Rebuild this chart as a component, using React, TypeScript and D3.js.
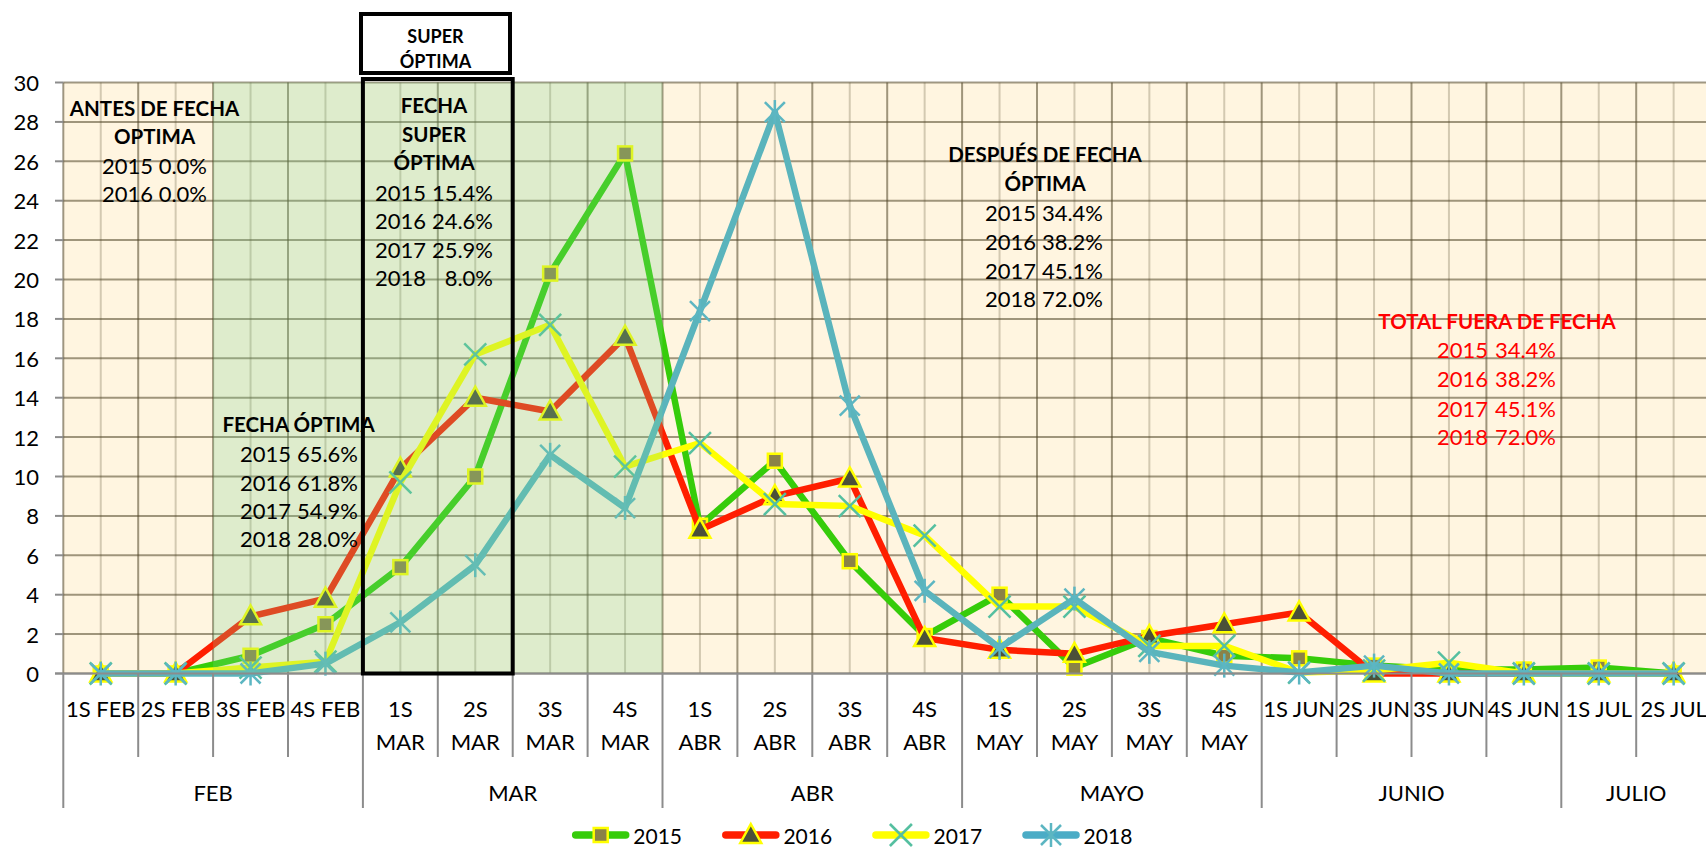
import React from "react";
import * as d3 from "d3";

const categories = [
  "1S FEB", "2S FEB", "3S FEB", "4S FEB",
  "1S MAR", "2S MAR", "3S MAR", "4S MAR",
  "1S ABR", "2S ABR", "3S ABR", "4S ABR",
  "1S MAY", "2S MAY", "3S MAY", "4S MAY",
  "1S JUN", "2S JUN", "3S JUN", "4S JUN",
  "1S JUL", "2S JUL",
];
// categories whose label wraps on two lines
const wrappedMonths = ["MAR", "ABR", "MAY"];
const monthNames = ["FEB", "MAR", "ABR", "MAYO", "JUNIO", "JULIO"];
const monthSpans = [4, 4, 4, 4, 4, 2];

const years = ["2015", "2016", "2017", "2018"];
const v2015 = [0, 0, 0.9, 2.5, 5.4, 10.0, 20.3, 26.4, 7.5, 10.8, 5.7, 1.9, 4.0, 0.3, 1.8, 0.9, 0.77, 0.4, 0.2, 0.2, 0.3, 0];
const v2016 = [0, 0, 2.9, 3.8, 10.4, 14.0, 13.3, 17.1, 7.3, 9.0, 9.9, 1.8, 1.2, 1.0, 1.9, 2.5, 3.1, 0, 0, 0, 0, 0];
const v2017 = [0, 0, 0.3, 0.6, 9.7, 16.2, 17.7, 10.5, 11.7, 8.6, 8.5, 7.0, 3.4, 3.4, 1.4, 1.4, 0.05, 0.15, 0.55, 0, 0, 0];
const v2018 = [0, 0, 0, 0.5, 2.6, 5.5, 11.1, 8.4, 18.4, 28.5, 13.6, 4.2, 1.3, 3.8, 1.1, 0.4, 0.05, 0.4, 0, 0, 0, 0];

const yTicks = d3.range(0, 31, 2);

const antesTitle = ["ANTES DE FECHA", "OPTIMA"];
const antesRows = [["2015", "0.0%"], ["2016", "0.0%"]];
const superTitle = ["FECHA", "SUPER", "ÓPTIMA"];
const superRows = [["2015", "15.4%"], ["2016", "24.6%"], ["2017", "25.9%"], ["2018", "8.0%"]];
const optimaTitle = ["FECHA ÓPTIMA"];
const optimaRows = [["2015", "65.6%"], ["2016", "61.8%"], ["2017", "54.9%"], ["2018", "28.0%"]];
const despuesTitle = ["DESPUÉS DE FECHA", "ÓPTIMA"];
const despuesRows = [["2015", "34.4%"], ["2016", "38.2%"], ["2017", "45.1%"], ["2018", "72.0%"]];
const totalTitle = ["TOTAL FUERA DE FECHA"];
const totalRows = [["2015", "34.4%"], ["2016", "38.2%"], ["2017", "45.1%"], ["2018", "72.0%"]];
const boxTitle = ["SUPER", "ÓPTIMA"];

const seriesValues = [v2015, v2016, v2017, v2018];
const seriesColors = ["#36CC0A", "#FF1E00", "#FFFF00", "#5AB4BC"];
const markerTypes = ["square", "triangle", "x", "star"];

const FONT = "Lato, 'Open Sans', sans-serif";
const W = 1706;
const H = 849;
const left = 63.3;
const catW = 74.9;

function Marker({ type, cx, cy }: { type: string; cx: number; cy: number }) {
  if (type === "square") {
    return <rect x={cx - 7} y={cy - 7} width={14} height={14} fill="#8B8247" stroke="#FFFF00" strokeWidth={2.5} />;
  }
  if (type === "triangle") {
    return (
      <path
        d={`M${cx},${cy - 11}L${cx + 10.5},${cy + 8}L${cx - 10.5},${cy + 8}Z`}
        fill="#4B5039"
        stroke="#FFFF00"
        strokeWidth={2.5}
        strokeLinejoin="miter"
      />
    );
  }
  if (type === "x") {
    const r = 11;
    return (
      <g stroke="#55BFA0" strokeWidth={2.5}>
        <line x1={cx - r} y1={cy - r} x2={cx + r} y2={cy + r} />
        <line x1={cx - r} y1={cy + r} x2={cx + r} y2={cy - r} />
      </g>
    );
  }
  const r = 10;
  return (
    <g stroke="#5CB6C2" strokeWidth={2.5}>
      <line x1={cx - r} y1={cy - r} x2={cx + r} y2={cy + r} />
      <line x1={cx - r} y1={cy + r} x2={cx + r} y2={cy - r} />
      <line x1={cx} y1={cy - 12} x2={cx} y2={cy + 12} />
    </g>
  );
}

function Block({
  title, rows, cx, titleY, rowY, step, xl, xr, color,
}: {
  title: string[]; rows: string[][]; cx: number; titleY: number; rowY: number[]; step: number;
  xl: number; xr: number; color: string;
}) {
  return (
    <g fill={color} fontFamily={FONT}>
      {title.map((t, i) => (
        <text key={"t" + i} x={cx} y={titleY + i * step} textAnchor="middle" dominantBaseline="central" fontWeight="bold" fontSize={20.5}>
          {t}
        </text>
      ))}
      {rows.map((r, i) => (
        <g key={"r" + i} fontSize={22}>
          <text x={xl} y={rowY[i]} textAnchor="start" dominantBaseline="central">{r[0]}</text>
          <text x={xr} y={rowY[i]} textAnchor="end" dominantBaseline="central">{r[1]}</text>
        </g>
      ))}
    </g>
  );
}

export default function App() {
  const x = d3.scaleBand<string>().domain(categories).range([left, left + catW * categories.length]).padding(0);
  const bw = x.bandwidth();
  const cxAt = (i: number) => (x(categories[i]) as number) + bw / 2;
  const y = d3.scaleLinear().domain([0, 30]).range([673.5, 82.5]);
  const y0 = y(0);
  const yTop = y(30);
  const plotRight = left + catW * categories.length;

  const line = d3
    .line<number>()
    .x((_, i) => cxAt(i))
    .y((d) => y(d))
    .curve(d3.curveLinear);

  const boundaries = d3.range(0, categories.length + 1).map((i) => left + i * bw);
  const monthStarts: number[] = [];
  monthSpans.reduce((acc, n) => {
    monthStarts.push(acc);
    return acc + n;
  }, 0);
  const monthBoundaryIdx = new Set<number>([...monthStarts, categories.length]);

  const greenX0 = x(categories[2]) as number;
  const greenX1 = (x(categories[7]) as number) + bw;
  const boxX0 = x(categories[4]) as number;
  const boxX1 = (x(categories[5]) as number) + bw;

  const legendX0 = 571.7;
  const legendStep = 150.1;
  const legendY = 835;

  return (
    <svg
      width={W}
      height={H}
      style={{ position: "absolute", left: 0, top: 0, background: "#ffffff" }}
      fontFamily={FONT}
    >
      {/* plot background */}
      <rect x={left} y={yTop} width={plotRight - left} height={y0 - yTop} fill="#FFF5E0" />

      {/* vertical gridlines: category centers (light) */}
      {categories.map((c, i) => (
        <line key={"vc" + i} x1={cxAt(i)} x2={cxAt(i)} y1={yTop} y2={y0} stroke="rgb(110,100,70)" strokeOpacity={0.3} strokeWidth={2} />
      ))}
      {/* vertical gridlines: boundaries (dark) */}
      {boundaries.map((bx, i) => (
        <line key={"vb" + i} x1={bx} x2={bx} y1={yTop} y2={y0} stroke="rgb(80,70,40)" strokeOpacity={0.55} strokeWidth={2} />
      ))}
      {/* horizontal gridlines */}
      {yTicks.map((t) => (
        <line key={"h" + t} x1={left} x2={plotRight} y1={y(t)} y2={y(t)} stroke="rgb(80,70,40)" strokeOpacity={0.55} strokeWidth={2} />
      ))}

      {/* series */}
      {seriesValues.map((vals, s) => (
        <g key={"s" + s}>
          <path d={line(vals) as string} fill="none" stroke={seriesColors[s]} strokeWidth={6.5} strokeLinejoin="round" strokeLinecap="round" />
          {vals.map((v, i) => (
            <Marker key={i} type={markerTypes[s]} cx={cxAt(i)} cy={y(v)} />
          ))}
        </g>
      ))}

      {/* green "fecha óptima" overlay */}
      <rect x={greenX0} y={yTop} width={greenX1 - greenX0} height={y0 - yTop} fill="rgb(123,213,144)" fillOpacity={0.25} />

      {/* y axis ticks and labels */}
      {yTicks.map((t) => (
        <g key={"yt" + t}>
          <line x1={55} x2={left} y1={y(t)} y2={y(t)} stroke="#8C8C8C" strokeWidth={2} />
          <text x={39} y={y(t)} textAnchor="end" dominantBaseline="central" fontSize={22} fill="#000">
            {t}
          </text>
        </g>
      ))}
      <line x1={55} x2={plotRight} y1={y0} y2={y0} stroke="#8C8C8C" strokeWidth={2} />

      {/* x axis separators */}
      {boundaries.map((bx, i) => (
        <line key={"xs" + i} x1={bx} x2={bx} y1={y0} y2={monthBoundaryIdx.has(i) ? 808 : 757} stroke="#8C8C8C" strokeWidth={2} />
      ))}
      {/* category labels */}
      {categories.map((c, i) => {
        const parts = c.split(" ");
        const wrap = wrappedMonths.includes(parts[1]);
        return wrap ? (
          <g key={"cl" + i} fontSize={22}>
            <text x={cxAt(i)} y={708} textAnchor="middle" dominantBaseline="central">{parts[0]}</text>
            <text x={cxAt(i)} y={741} textAnchor="middle" dominantBaseline="central">{parts[1]}</text>
          </g>
        ) : (
          <text key={"cl" + i} x={cxAt(i)} y={708} textAnchor="middle" dominantBaseline="central" fontSize={22}>
            {c}
          </text>
        );
      })}
      {/* month labels */}
      {monthNames.map((m, k) => {
        const a = left + monthStarts[k] * bw;
        const b = a + monthSpans[k] * bw;
        return (
          <text key={"m" + k} x={(a + b) / 2} y={792} textAnchor="middle" dominantBaseline="central" fontSize={22}>
            {m}
          </text>
        );
      })}

      {/* super óptima box */}
      <rect x={boxX0} y={79} width={boxX1 - boxX0} height={y0 - 79} fill="none" stroke="#000" strokeWidth={4} />
      <rect x={361} y={14} width={149} height={59} fill="#fff" stroke="#000" strokeWidth={4} />
      {boxTitle.map((t, i) => (
        <text key={"bt" + i} x={435.5} y={36 + i * 25} textAnchor="middle" dominantBaseline="central" fontWeight="bold" fontSize={18}>
          {t}
        </text>
      ))}

      {/* annotations */}
      <Block title={antesTitle} rows={antesRows} cx={154.5} titleY={108} rowY={[165, 193]} step={28} xl={102} xr={207} color="#000" />
      <Block title={superTitle} rows={superRows} cx={434} titleY={105} rowY={[192, 220, 249, 277]} step={28.5} xl={375} xr={493} color="#000" />
      <Block title={optimaTitle} rows={optimaRows} cx={298.6} titleY={424} rowY={[453, 482, 510, 538]} step={28} xl={240} xr={358} color="#000" />
      <Block title={despuesTitle} rows={despuesRows} cx={1045} titleY={154} rowY={[212, 241, 270, 298]} step={29} xl={985} xr={1103} color="#000" />
      <Block title={totalTitle} rows={totalRows} cx={1497} titleY={321} rowY={[349, 378, 408, 436]} step={29} xl={1437} xr={1556} color="#FF0000" />

      {/* legend */}
      {years.map((yr, s) => {
        const lx = legendX0 + s * legendStep;
        return (
          <g key={"lg" + s}>
            <line x1={lx + 4} x2={lx + 54} y1={legendY} y2={legendY} stroke={s === 3 ? "#4BACC6" : seriesColors[s]} strokeWidth={7.5} strokeLinecap="round" />
            <Marker type={markerTypes[s]} cx={lx + 29} cy={legendY} />
            <text x={lx + 61.6} y={legendY} dominantBaseline="central" fontSize={21}>
              {yr}
            </text>
          </g>
        );
      })}
    </svg>
  );
}
